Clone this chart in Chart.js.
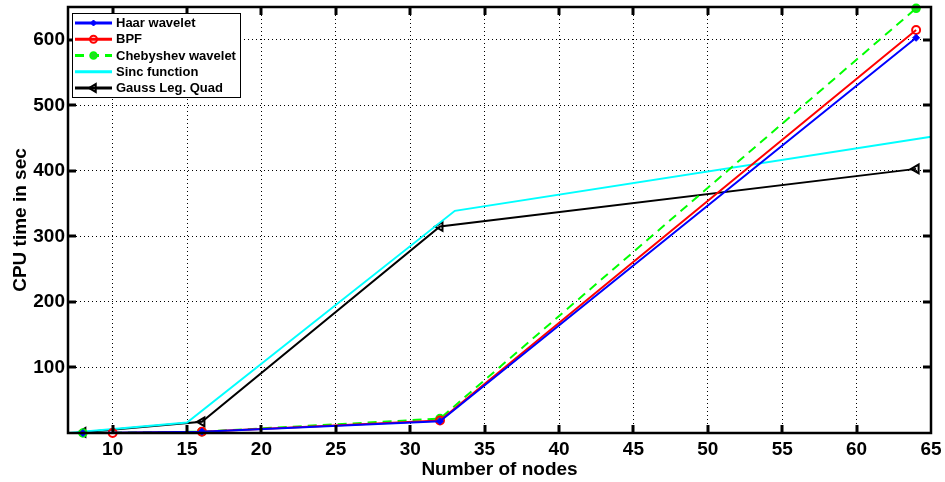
<!DOCTYPE html>
<html><head><meta charset="utf-8">
<script src="https://cdn.jsdelivr.net/npm/chart.js@4.4.1/dist/chart.umd.min.js"></script>
<style>html,body{margin:0;padding:0;background:#fff;}#wrap{width:945px;height:482px;position:relative;}</style>
</head><body><div id="wrap"><canvas id="c" width="945" height="482"></canvas></div>
<script>
const seriesNames = ['Haar wavelet','BPF','Chebyshev wavelet','Sinc function','Gauss Leg. Quad'];
const haarX = [8,16,32,64],  haarY = [0,2,18,603];
const bpfX = [10,16,32,64],  bpfY = [0,2,19,615];
const chebX = [8,16,32,64],  chebY = [0,2,22,648];
const sincX = [7,15,33,65],  sincY = [0,16,339,452];
const gaussX = [8,16,32,64], gaussY = [1,17,315,403];
const xTicks = [10,15,20,25,30,35,40,45,50,55,60,65];
const yTicks = [100,200,300,400,500,600];
const xTitle = 'Number of nodes';
const yTitle = 'CPU time in sec';

const pts = (xs, ys) => xs.map((x, i) => ({x: x, y: ys[i]}));
const FONT = "'Liberation Sans', Arial, sans-serif";

const datasets = [
  {label: seriesNames[0], data: pts(haarX, haarY), borderColor:'#0000ff', backgroundColor:'#0000ff',
   pointStyle:'rectRot', pointRadius:3.5, pointBorderWidth:1},
  {label: seriesNames[1], data: pts(bpfX, bpfY), borderColor:'#ff0000', backgroundColor:'rgba(0,0,0,0)',
   pointStyle:'circle', pointRadius:4, pointBorderWidth:2},
  {label: seriesNames[2], data: pts(chebX, chebY), borderColor:'#00ff00', backgroundColor:'#22dd22',
   borderDash:[9,6], pointStyle:'circle', pointRadius:4, pointBorderWidth:1.5},
  {label: seriesNames[3], data: pts(sincX, sincY), borderColor:'#00ffff', backgroundColor:'#00ffff',
   pointRadius:0, pointStyle:'line'},
  {label: seriesNames[4], data: pts(gaussX, gaussY), borderColor:'#000000', backgroundColor:'rgba(0,0,0,0)',
   pointStyle:'triangle', pointRotation:-90, pointRadius:5, pointBorderWidth:2}
];
datasets.forEach(d => { d.showLine = true; d.borderWidth = 2; d.clip = false; d.tension = 0; d.pointHoverRadius = d.pointRadius; });

const framePlugin = {
  id: 'frame',
  afterDatasetsDraw(chart) {
    const ctx = chart.ctx, a = chart.chartArea;
    const xs = chart.scales.x, ys = chart.scales.y;
    ctx.save();
    ctx.strokeStyle = '#000';
    ctx.setLineDash([]);
    ctx.lineWidth = 3;
    xTicks.forEach(v => {
      const px = Math.round(xs.getPixelForValue(v));
      if (px > a.right - 3) return;
      ctx.beginPath(); ctx.moveTo(px, a.bottom); ctx.lineTo(px, a.bottom - 8); ctx.stroke();
      ctx.beginPath(); ctx.moveTo(px, a.top); ctx.lineTo(px, a.top + 8); ctx.stroke();
    });
    yTicks.forEach(v => {
      const py = Math.round(ys.getPixelForValue(v));
      ctx.beginPath(); ctx.moveTo(a.left, py); ctx.lineTo(a.left + 8, py); ctx.stroke();
      ctx.beginPath(); ctx.moveTo(a.right, py); ctx.lineTo(a.right - 8, py); ctx.stroke();
    });
    ctx.lineWidth = 2.5;
    ctx.strokeRect(a.left, a.top, a.right - a.left, a.bottom - a.top);
    ctx.restore();
  }
};

const legendPlugin = {
  id: 'boxLegend',
  afterDraw(chart) {
    const ctx = chart.ctx, a = chart.chartArea;
    const x0 = a.left + 4, y0 = a.top + 6, w = 168, h = 84, rowH = 16.25;
    ctx.save();
    ctx.fillStyle = '#fff';
    ctx.fillRect(x0, y0, w, h);
    ctx.strokeStyle = '#000'; ctx.lineWidth = 1; ctx.setLineDash([]);
    ctx.strokeRect(x0 + 0.5, y0 + 0.5, w, h);
    chart.data.datasets.forEach((ds, i) => {
      const cy = y0 + 10 + i * rowH;
      ctx.strokeStyle = ds.borderColor;
      ctx.lineWidth = 3;
      ctx.setLineDash(ds.borderDash || []);
      ctx.beginPath(); ctx.moveTo(x0 + 3, cy); ctx.lineTo(x0 + 40, cy); ctx.stroke();
      ctx.setLineDash([]);
      if (ds.pointRadius > 0) {
        ctx.fillStyle = ds.backgroundColor;
        ctx.strokeStyle = ds.borderColor;
        ctx.lineWidth = ds.pointBorderWidth;
        Chart.helpers.drawPoint(ctx, {pointStyle: ds.pointStyle, rotation: ds.pointRotation || 0,
          radius: ds.pointRadius - 0.5, borderWidth: ds.pointBorderWidth}, x0 + 21.5, cy);
      }
      ctx.fillStyle = '#000';
      ctx.font = "bold 13px " + FONT;
      ctx.textBaseline = 'middle';
      ctx.textAlign = 'left';
      ctx.fillText(ds.label, x0 + 44, cy + 0.5);
    });
    ctx.restore();
  }
};

new Chart(document.getElementById('c'), {
  type: 'scatter',
  data: {datasets: datasets},
  plugins: [framePlugin, legendPlugin],
  options: {
    responsive: false,
    animation: false,
    events: [],
    layout: {padding: {top: 7, right: 14, left: 0, bottom: 0}},
    plugins: {legend: {display: false}, tooltip: {enabled: false}},
    scales: {
      x: {
        type: 'linear', min: 7, max: 65,
        afterBuildTicks: s => { s.ticks = xTicks.map(v => ({value: v})); },
        afterFit: s => { s.height = 49; s.paddingLeft = 0; s.paddingRight = 0; },
        grid: {color: '#000', lineWidth: 1, drawTicks: false},
        border: {display: false, dash: [1, 3]},
        ticks: {color: '#000', font: {family: FONT, size: 19, weight: 'bold'}, padding: 5, maxRotation: 0, autoSkip: false},
        title: {display: true, text: xTitle, color: '#000', font: {family: FONT, size: 19, weight: 'bold'}, padding: {top: 0, bottom: 1}}
      },
      y: {
        type: 'linear', min: 0, max: 650,
        afterBuildTicks: s => { s.ticks = yTicks.map(v => ({value: v})); },
        afterFit: s => { s.width = 68; s.paddingTop = 0; s.paddingBottom = 0; },
        grid: {color: '#000', lineWidth: 1, drawTicks: false},
        border: {display: false, dash: [1, 3]},
        ticks: {color: '#000', font: {family: FONT, size: 19, weight: 'bold'}, padding: 3, autoSkip: false},
        title: {display: true, text: yTitle, color: '#000', font: {family: FONT, size: 19, weight: 'bold'}, padding: {top: 9, bottom: 0}}
      }
    }
  }
});
</script>
</body></html>
